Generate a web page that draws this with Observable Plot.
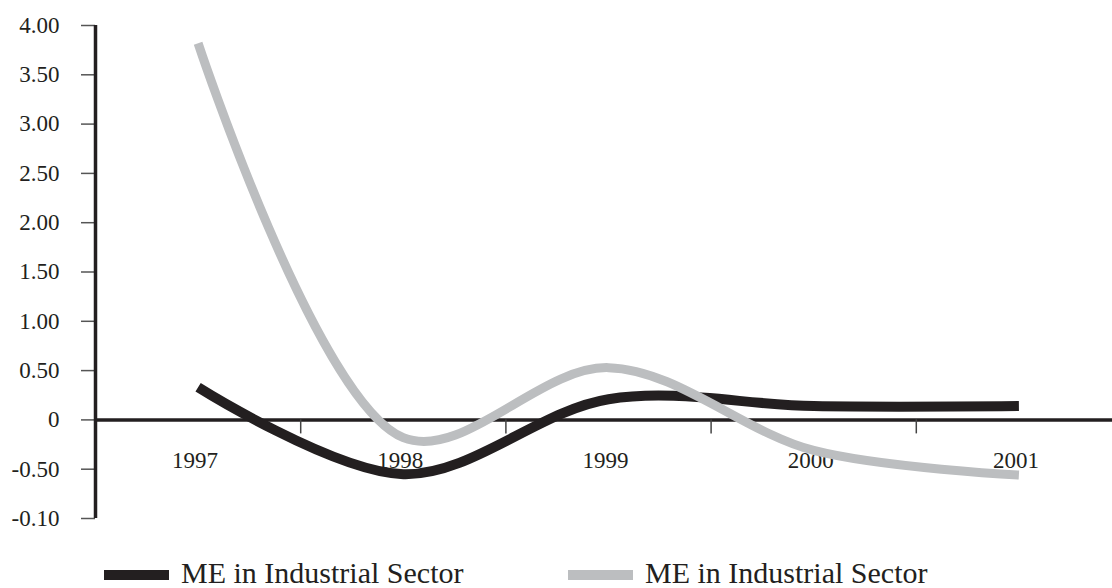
<!DOCTYPE html>
<html><head><meta charset="utf-8">
<script src="https://cdn.jsdelivr.net/npm/d3@7"></script>
<script src="https://cdn.jsdelivr.net/npm/@observablehq/plot@0.6"></script>
<style>
html,body{margin:0;padding:0;background:#fff;overflow:hidden;width:1112px;height:588px;}
#legend{position:relative;height:48px;font-family:"Liberation Serif","Times New Roman",serif;font-size:30px;color:#231f20;}
#legend .sw{position:absolute;height:10px;width:65px;}
#legend .lb{position:absolute;line-height:1;white-space:nowrap;}
</style></head><body>
<div id="chart"></div>
<div id="legend"></div>
<script>
// ---- data ----
const years = [1997, 1998, 1999, 2000, 2001];
const seriesA = [0.33, -0.55, 0.21, 0.14, 0.14];   // black
const seriesB = [3.82, -0.18, 0.53, -0.31, -0.56]; // grey
const seriesNames = ["ME in Industrial Sector", "ME in Industrial Sector"];
const seriesColors = ["#231f20", "#bcbec0"];
const yTicks = [-1, -0.5, 0, 0.5, 1, 1.5, 2, 2.5, 3, 3.5, 4];
const yTickLabels = ["-0.10", "-0.50", "0", "0.50", "1.00", "1.50", "2.00", "2.50", "3.00", "3.50", "4.00"];

// ---- derived ----
const xDomain = [years[0] - 0.5, years[years.length - 1] + 0.5];
const boundaries = years.slice(0, -1).map(y => y + 0.5);
const yDomain = [yTicks[0], yTicks[yTicks.length - 1]];
const H = 540, mTop = 25, mBottom = 22;
const xRange = [95, 1121];
const pxPerUnit = (H - mTop - mBottom) / (yDomain[1] - yDomain[0]);
const tickLen = 14;

const rowsA = years.map((y, i) => ({year: y, value: seriesA[i]}));
const rowsB = years.map((y, i) => ({year: y, value: seriesB[i]}));

const chart = Plot.plot({
  width: 1112,
  height: H,
  marginTop: mTop,
  marginBottom: mBottom,
  marginLeft: xRange[0],
  marginRight: 0,
  style: {fontFamily: '"Liberation Serif","Times New Roman",serif', fontSize: "23px", color: "#231f20", background: "#fff", overflow: "hidden"},
  x: {type: "linear", domain: xDomain, range: xRange, axis: null},
  y: {domain: yDomain, axis: null},
  marks: [
    Plot.axisY({ticks: yTicks, tickFormat: d => yTickLabels[yTicks.indexOf(d)], label: null, tickSize: tickLen, tickPadding: 22, stroke: "#555", strokeWidth: 1.5, fontSize: 23, fill: "#231f20"}),
    Plot.ruleX([xDomain[0]], {y1: yDomain[0], y2: yDomain[1], stroke: "#231f20", strokeWidth: 3.5}),
    Plot.ruleY([0], {x1: xDomain[0], x2: xDomain[1], stroke: "#231f20", strokeWidth: 3.5}),
    Plot.ruleX(boundaries, {y1: 0, y2: -tickLen / pxPerUnit, stroke: "#444", strokeWidth: 1.5}),
    Plot.text(years, {x: d => d, y: 0, dy: 41, dx: -3, text: d => String(d), fontSize: 23, fill: "#231f20"}),
    Plot.line(rowsA, {x: "year", y: "value", curve: "catmull-rom", stroke: seriesColors[0], strokeWidth: 10, strokeLinecap: "butt"}),
    Plot.line(rowsB, {x: "year", y: "value", curve: "catmull-rom", stroke: seriesColors[1], strokeWidth: 9, strokeLinecap: "butt"})
  ]
});
document.getElementById("chart").appendChild(chart);

// ---- legend ----
const legend = document.getElementById("legend");
const swX = [104, 568];
seriesNames.forEach((name, i) => {
  const sw = document.createElement("div");
  sw.className = "sw";
  sw.style.left = swX[i] + "px";
  sw.style.top = "30px";
  sw.style.background = seriesColors[i];
  legend.appendChild(sw);
  const lb = document.createElement("div");
  lb.className = "lb";
  lb.style.left = (swX[i] + 77) + "px";
  lb.style.top = "18px";
  lb.textContent = name;
  legend.appendChild(lb);
});
</script>
</body></html>
